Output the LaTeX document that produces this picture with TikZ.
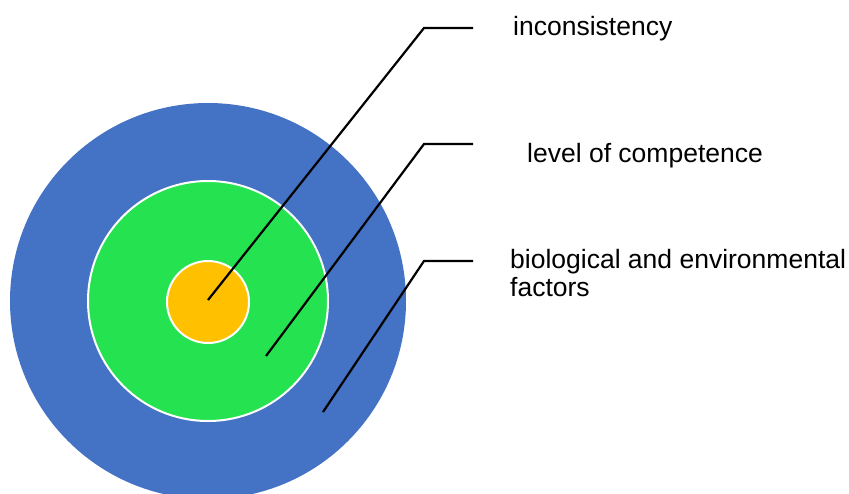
\documentclass[tikz,border=0pt]{standalone}
\usepackage{fontspec}
\setmainfont{Liberation Sans}
\definecolor{ringblue}{RGB}{68,114,196}
\definecolor{ringgreen}{RGB}{36,226,80}
\definecolor{ringgold}{RGB}{255,192,0}
\tikzset{
  ring/.style={draw=white, line width=2pt},
  pointer/.style={black, line width=2.2pt},
  caption/.style={anchor=base west, align=left, inner sep=0pt, font=\fontsize{26.5}{28}\selectfont}
}
\begin{document}
\begin{tikzpicture}[x=1pt, y=-1pt]
            \useasboundingbox (0,0) rectangle (849,493);
            \begin{scope}
                \clip (0,0) rectangle (849,493);
                \fill[ringblue] (208,301) circle[radius=198pt];
            \end{scope}
            \filldraw[ring, fill=ringgreen] (208,301) circle[radius=120pt];
            \filldraw[ring, fill=ringgold] (208,302) circle[radius=41pt];
            % pointer ends and elbows
            \coordinate (core) at (208,300);
            \coordinate (middle) at (266,356);
            \coordinate (outer) at (323,412);
            \coordinate (coreknee) at (424,28);
            \coordinate (middleknee) at (424,144);
            \coordinate (outerknee) at (424,261);
            \coordinate (coretip) at (473,28);
            \coordinate (middletip) at (473,144);
            \coordinate (outertip) at (473,261);
            \node[caption] (corelabel) at (513,35) {inconsistency};
            \node[caption] (middlelabel) at (527,162) {level of competence};
            \node[caption] (outerlabel) at (510,296) {biological and environmental\\factors};
            \draw[pointer] (core) -- (coreknee) -- (coretip);
            \draw[pointer] (middle) -- (middleknee) -- (middletip);
            \draw[pointer] (outer) -- (outerknee) -- (outertip);
        \end{tikzpicture}
\end{document}
